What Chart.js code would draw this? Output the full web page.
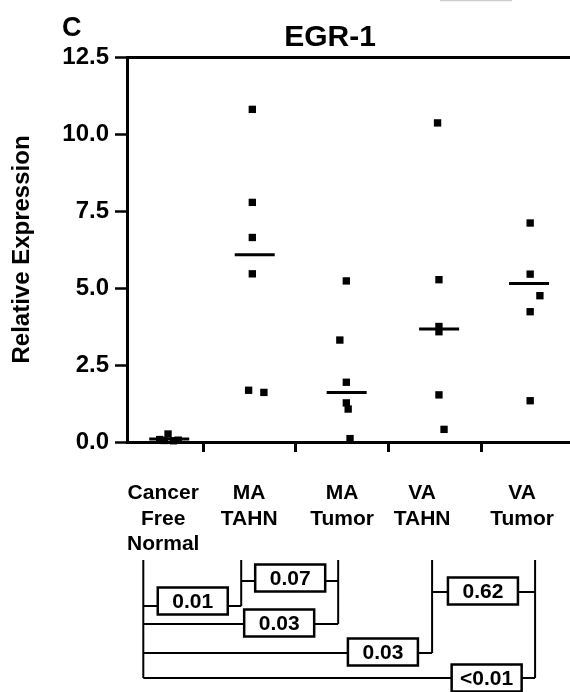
<!DOCTYPE html>
<html>
<head>
<meta charset="utf-8">
<script src="https://cdn.jsdelivr.net/npm/chart.js@4.4.0/dist/chart.umd.min.js"></script>
<style>
  html, body { margin: 0; padding: 0; background: #fff; }
</style>
</head>
<body>
<canvas id="chart" width="570" height="692"></canvas>
<script>
// Groups on the x axis (multi-line labels)
const groups = [['Cancer', 'Free', 'Normal'], ['MA', 'TAHN'], ['MA', 'Tumor'], ['VA', 'TAHN'], ['VA', 'Tumor']];

// Relative expression of each sample, with its x position (group index + jitter)
const cancerFree  = [0.26, 0.08, 0.05, 0.04, 0.06];
const cancerFreeX = [1.12, 1.03, 1.08, 1.18, 1.23];
const maTahn      = [10.80, 7.78, 6.64, 5.46, 1.68, 1.61];
const maTahnX     = [2.03, 2.03, 2.03, 2.03, 1.99, 2.155];
const maTumor     = [5.23, 3.31, 1.94, 1.27, 1.07, 0.11];
const maTumorX    = [3.045, 2.975, 3.045, 3.045, 3.065, 3.085];
const vaTahn      = [10.36, 5.27, 3.75, 3.58, 1.53, 0.41];
const vaTahnX     = [4.03, 4.045, 4.045, 4.045, 4.045, 4.10];
const vaTumor     = [7.11, 5.45, 4.75, 4.23, 1.34];
const vaTumorX    = [5.03, 5.03, 5.135, 5.03, 5.03];

// Median bar of each group
const medians  = [0.10, 6.08, 1.61, 3.67, 5.15];
const medianX  = [1.133, 2.056, 3.049, 4.047, 5.018];

// Axis ticks
const yTicks        = [0, 2.5, 5, 7.5, 10, 12.5];
const boundaryTicks = [1.5, 2.5, 3.5, 4.5];
const labelX        = [1.068, 1.996, 3.0, 3.863, 4.942];

// Pairwise comparisons (group indices) and their p values
const pairs   = [[0, 1], [1, 2], [0, 2], [3, 4], [0, 3], [0, 4]];
const pValues = ['0.01', '0.07', '0.03', '0.62', '0.03', '<0.01'];

// layout of the comparison brackets under the axis
const dropX       = [0.853, 1.91, 2.957, 3.971, 5.083];
const dropTop     = 560;
const bracketY    = [606, 581, 624, 592, 653, 678];
const boxY        = [601, 578, 623, 591, 652, 678];
const boxX        = [1.387, 2.439, 2.32, 4.52, 3.44, 4.56];

const FONT = "'Liberation Sans', Arial, Helvetica, sans-serif";
Chart.defaults.font.family = FONT;
Chart.defaults.color = '#000';

const pts = (ys, xs) => ys.map((y, i) => ({ x: xs[i], y: y }));

const pointSet = (ys, xs) => ({
    data: pts(ys, xs),
    pointStyle: 'rect',
    pointRadius: 5.2,
    pointBorderWidth: 0,
    backgroundColor: '#000',
    borderColor: '#000',
    showLine: false,
    clip: false
});

const annotations = {
    id: 'annotations',
    afterDraw(chart) {
        const ctx = chart.ctx;
        const xs = chart.scales.x;
        const px = v => xs.getPixelForValue(v);
        ctx.save();

        // panel letter and title
        ctx.fillStyle = '#000';
        ctx.textBaseline = 'alphabetic';
        ctx.textAlign = 'left';
        ctx.font = 'bold 27px ' + FONT;
        ctx.fillText('C', 62, 36);
        ctx.textAlign = 'center';
        ctx.font = 'bold 30px ' + FONT;
        ctx.fillText('EGR-1', 330, 46);

        // faint crop mark at the top edge
        ctx.strokeStyle = '#ccc';
        ctx.lineWidth = 1.5;
        ctx.beginPath(); ctx.moveTo(440, 0.5); ctx.lineTo(512, 0.5); ctx.stroke();

        // drop lines from each group
        ctx.strokeStyle = '#000';
        ctx.lineWidth = 2;
        dropX.forEach((v, i) => {
            let low = dropTop;
            pairs.forEach(([a, b], k) => {
                if (a === i || b === i) low = Math.max(low, bracketY[k]);
            });
            ctx.beginPath();
            ctx.moveTo(px(v), dropTop);
            ctx.lineTo(px(v), low);
            ctx.stroke();
        });

        // brackets with p value boxes
        pairs.forEach(([a, b], k) => {
            ctx.lineWidth = 2;
            ctx.beginPath();
            ctx.moveTo(px(dropX[a]), bracketY[k]);
            ctx.lineTo(px(dropX[b]), bracketY[k]);
            ctx.stroke();

            const cx = px(boxX[k]), w = 70, h = 27;
            ctx.fillStyle = '#fff';
            ctx.fillRect(cx - w / 2, boxY[k] - h / 2, w, h);
            ctx.lineWidth = 2.5;
            ctx.strokeRect(cx - w / 2, boxY[k] - h / 2, w, h);
            ctx.fillStyle = '#000';
            ctx.font = 'bold 21px ' + FONT;
            ctx.textAlign = 'center';
            ctx.textBaseline = 'middle';
            ctx.fillText(pValues[k], cx, boxY[k] + 1);
        });
        ctx.restore();
    }
};

new Chart(document.getElementById('chart'), {
    type: 'scatter',
    data: {
        datasets: [
            pointSet(cancerFree, cancerFreeX),
            pointSet(maTahn, maTahnX),
            pointSet(maTumor, maTumorX),
            pointSet(vaTahn, vaTahnX),
            pointSet(vaTumor, vaTumorX),
            {
                data: pts(medians, medianX),
                pointStyle: 'line',
                pointRadius: 20,
                pointBorderWidth: 3,
                borderColor: '#000',
                backgroundColor: '#000',
                showLine: false,
                clip: false
            }
        ]
    },
    options: {
        responsive: false,
        animation: false,
        layout: { autoPadding: false, padding: { top: 57, right: 0, bottom: 130, left: 0 } },
        plugins: {
            legend: { display: false },
            tooltip: { enabled: false }
        },
        scales: {
            x: {
                type: 'linear',
                position: 'bottom',
                min: 0.677,
                max: 5.46,
                afterBuildTicks: s => { s.ticks = boundaryTicks.map(v => ({ value: v })); },
                afterFit: s => { s.height = 10; s.paddingLeft = 0; s.paddingRight = 0; },
                ticks: { display: false },
                grid: { drawOnChartArea: false, drawTicks: true, tickLength: 10, tickColor: '#000', tickWidth: 3 },
                border: { color: '#000', width: 3 }
            },
            xLab: {
                type: 'linear',
                position: 'bottom',
                weight: 1,
                min: 0.677,
                max: 5.46,
                afterBuildTicks: s => { s.ticks = labelX.map(v => ({ value: v })); },
                afterFit: s => { s.height = 110; s.paddingLeft = 0; s.paddingRight = 0; },
                ticks: {
                    autoSkip: false,
                    maxRotation: 0,
                    padding: 21,
                    font: { size: 21, weight: 'bold', lineHeight: 1.2 },
                    callback: (v, i) => groups[i]
                },
                grid: { display: false },
                border: { display: false }
            },
            y: {
                min: 0,
                max: 12.5,
                afterBuildTicks: s => { s.ticks = yTicks.map(v => ({ value: v })); },
                afterFit: s => { s.width = 127; },
                ticks: {
                    padding: 6,
                    font: { size: 24, weight: 'bold' },
                    callback: v => v.toFixed(1)
                },
                grid: {
                    color: c => (c.tick && c.tick.value === 12.5) ? '#000' : 'rgba(0,0,0,0)',
                    lineWidth: 3,
                    tickLength: 12,
                    tickColor: '#000',
                    tickWidth: 2.5
                },
                border: { color: '#000', width: 3 },
                title: {
                    display: true,
                    text: 'Relative Expression',
                    font: { size: 24, weight: 'bold' },
                    padding: { top: 8, bottom: 0 }
                }
            }
        }
    },
    plugins: [annotations]
});
</script>
</body>
</html>
